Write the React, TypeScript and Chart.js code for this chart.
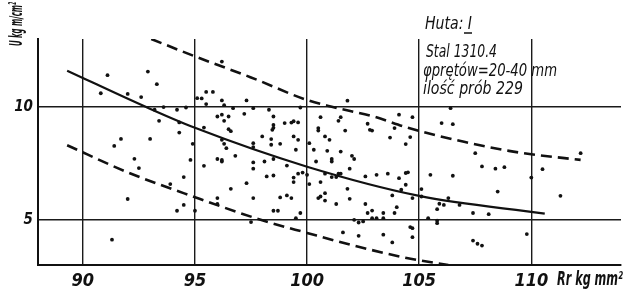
import React, { useEffect, useRef } from 'react';
import { Chart, registerables } from 'chart.js';

Chart.register(...registerables);

const xTicks = [90, 95, 100, 105, 110];
const yTicks = [5, 10];

const scatterX = [
  91.1, 92.9, 93.3, 90.8, 92.0, 92.6, 96.2, 95.1, 95.3, 95.5, 95.8, 96.2, 95.5, 96.3, 96.7, 93.6, 94.2, 94.6,
  93.2, 93.4, 94.3, 94.3, 96.0, 96.2, 96.3, 96.5, 96.5, 96.6, 95.4, 93.0, 91.7, 91.4, 94.9, 96.2, 96.3, 96.4,
  97.3, 97.6, 98.3, 99.7, 97.2, 98.5, 99.0, 99.3, 99.4, 99.6, 98.5, 98.5, 98.45, 98.0, 98.4, 97.6, 97.6, 98.4,
  98.8, 99.4, 99.6, 99.5, 100.1, 100.5, 100.5, 100.6, 100.8, 101.0, 100.3, 100.9, 101.4, 101.5, 101.7, 101.5,
  101.8, 102.7, 102.8, 102.9, 103.7, 103.9, 104.1, 104.7, 104.6, 104.4,
  106.4, 106.0, 106.5, 107.5, 112.2,
  92.3, 92.5, 92.0, 91.3, 93.9, 94.5, 94.8, 94.5, 94.2, 95.0, 95.4, 96.0, 96.2, 96.2, 96.8, 96.6, 96.0, 96.0,
  97.6, 97.6, 98.1, 98.5, 99.1, 97.3, 98.2, 98.5, 99.4, 99.4, 99.6, 99.8, 100.0, 100.1, 97.6, 98.8, 99.1, 99.3,
  98.5, 98.7, 99.7, 99.5, 97.5, 100.4, 101.1, 101.1, 102.0, 102.1, 101.9, 100.6, 100.8, 101.1, 101.3, 101.4,
  101.5, 100.5, 100.6, 100.8, 100.8, 101.3, 101.8, 101.9, 102.1, 102.3, 102.5, 102.6, 102.6, 102.7, 102.9,
  102.9, 103.1, 103.1, 103.4, 103.4, 103.6, 103.8, 103.9, 104.0, 104.1, 104.2, 104.4, 104.5, 104.4, 104.7,
  104.6, 104.7, 104.7, 103.8, 103.4, 102.3, 101.6,
  105.5, 106.5, 107.8, 108.4, 108.8, 110.5, 110.0, 111.3, 108.5, 105.1, 105.1, 106.3, 105.9, 106.1, 105.8,
  106.8, 107.4, 108.1, 105.4, 105.8, 105.8, 107.4, 107.6, 107.8, 109.8,
];

const scatterY = [
  11.4, 11.56, 11.0, 10.6, 10.57, 10.43, 12.0, 10.38, 10.37, 10.66, 10.66, 10.28, 10.12, 10.07, 9.94, 9.99, 9.87, 9.97,
  9.87, 9.38, 9.31, 8.86, 9.57, 9.65, 9.38, 9.57, 9.01, 8.92, 9.08, 8.58, 8.58, 8.27, 8.36, 8.54, 8.36, 8.17,
  10.28, 9.94, 9.87, 9.97, 9.69, 9.57, 9.28, 9.3, 9.36, 9.31, 9.2, 9.07, 8.98, 8.69, 8.57, 8.39, 8.22, 8.32,
  8.36, 8.69, 8.54, 8.1, 8.39, 9.06, 8.95, 9.54, 8.69, 8.54, 8.1, 8.05, 9.38, 9.54, 8.95, 8.02,
  10.27, 9.25, 8.98, 8.95, 8.64, 9.06, 9.65, 9.54, 8.66, 8.35,
  9.94, 9.28, 9.23, 7.95, 7.95,
  7.7, 7.29, 5.92, 4.12, 6.58, 6.89, 7.65, 5.66, 5.4, 5.4, 7.39, 7.69, 7.65, 7.58, 7.83, 6.37, 5.96, 5.7,
  7.54, 7.26, 7.58, 7.69, 7.4, 6.62, 6.92, 6.96, 6.87, 6.67, 7.04, 7.09, 6.99, 6.58, 5.96, 5.99, 6.08, 5.96,
  5.4, 5.4, 5.3, 5.07, 4.9, 7.58, 7.69, 7.58, 7.83, 7.69, 7.26, 6.67, 7.04, 6.89, 6.89, 7.04,
  7.04, 5.96, 6.03, 6.18, 5.85, 5.7, 6.37, 5.93, 5.0, 4.88, 4.93, 6.92, 5.7, 5.3, 5.41,
  5.07, 5.07, 6.99, 5.3, 5.07, 7.04, 6.08, 5.3, 5.56, 6.84, 6.33, 7.07, 7.1, 6.55, 5.96,
  4.68, 4.63, 4.23, 4.0, 4.34, 4.29, 4.44,
  6.99, 6.95, 7.36, 7.26, 7.33, 7.24, 6.87, 6.06, 6.25, 6.36, 6.03, 5.96, 5.71, 5.66, 5.47,
  5.66, 5.3, 5.25, 5.07, 4.96, 4.85, 4.08, 3.94, 3.86, 4.37,
];

const regX = [89.3, 92.8, 95, 100, 105, 110.6];
const regY = [11.6, 10.0, 9.07, 7.35, 6.06, 5.27];

const upX = [93.05, 95, 97.5, 100, 101.1, 103, 104.5, 107, 109, 110, 112.2];
const upY = [13.0, 12.23, 11.3, 10.3, 10.0, 9.56, 9.07, 8.45, 8.05, 7.9, 7.65];

const lowX = [89.3, 92, 95, 98, 100, 102, 104.5, 106.3];
const lowY = [8.3, 7.1, 6.0, 4.98, 4.42, 3.88, 3.3, 3.0];

const noteLines = ['Huta: I', 'Stal 1310.4', 'φprętów=20-40 mm', 'ilość prób 229'];
const yTitle = 'U kg m/cm²';
const xTitle = 'Rr kg mm²';

const FONT = '"Liberation Sans Narrow", "DejaVu Sans Condensed", "Liberation Sans", "DejaVu Sans", sans-serif';
const INK = '#111111';

const pairs = (xs: number[], ys: number[]) => xs.map((x, i) => ({ x, y: ys[i] }));

function fitText(ctx: CanvasRenderingContext2D, text: string, x: number, y: number, w: number, size: number, rot = 0, weight = 'bold') {
  ctx.save();
  ctx.font = `italic ${weight} ${size}px ${FONT}`;
  const m = ctx.measureText(text).width || 1;
  ctx.translate(x, y);
  if (rot) ctx.rotate(rot);
  ctx.scale(w / m, 1);
  ctx.textAlign = 'left';
  ctx.textBaseline = 'middle';
  ctx.fillStyle = INK;
  ctx.fillText(text, 0, 0);
  ctx.restore();
}

const textPlugin = {
  id: 'sketchTexts',
  afterDraw(chart: any) {
    const ctx: CanvasRenderingContext2D = chart.ctx;
    // y axis title (rotated)
    fitText(ctx, yTitle, 17, 46, 44, 18, -Math.PI / 2);
    // x axis title
    fitText(ctx, xTitle, 557, 280, 66, 19);
    // annotation block
    const layout = [
      { x: 425, y: 25, w: 47 },
      { x: 426, y: 53, w: 71 },
      { x: 423, y: 72, w: 134 },
      { x: 423, y: 90, w: 100 },
    ];
    noteLines.forEach((t, i) => fitText(ctx, t, layout[i].x, layout[i].y, layout[i].w, 17, 0, 'normal'));
    // underline under "I"
    ctx.save();
    ctx.strokeStyle = INK;
    ctx.lineWidth = 1.5;
    ctx.beginPath();
    ctx.moveTo(464, 33);
    ctx.lineTo(472, 33);
    ctx.stroke();
    ctx.restore();
  },
};

export default function App() {
  const ref = useRef<HTMLCanvasElement | null>(null);

  useEffect(() => {
    document.body.style.margin = '0';
    const canvas = ref.current;
    if (!canvas) return;
    const chart = new Chart(canvas, {
      type: 'scatter',
      data: {
        datasets: [
          {
            label: 'pomiary',
            data: pairs(scatterX, scatterY),
            backgroundColor: INK,
            borderColor: INK,
            pointRadius: 1.9,
            pointBorderWidth: 0,
          },
          {
            label: 'regresja',
            data: pairs(regX, regY),
            showLine: true,
            borderColor: INK,
            borderWidth: 2.2,
            pointRadius: 0,
            cubicInterpolationMode: 'monotone',
          },
          {
            label: 'górna granica',
            data: pairs(upX, upY),
            showLine: true,
            borderColor: INK,
            borderWidth: 2.6,
            borderDash: [11, 6],
            pointRadius: 0,
            cubicInterpolationMode: 'monotone',
          },
          {
            label: 'dolna granica',
            data: pairs(lowX, lowY),
            showLine: true,
            borderColor: INK,
            borderWidth: 2.6,
            borderDash: [11, 6],
            pointRadius: 0,
            cubicInterpolationMode: 'monotone',
          },
        ],
      } as any,
      options: {
        animation: false,
        responsive: false,
        devicePixelRatio: 1,
        layout: { padding: { top: 39, right: 2, left: 0, bottom: 0 } },
        plugins: { legend: { display: false }, tooltip: { enabled: false } },
        scales: {
          x: {
            type: 'linear',
            min: 88,
            max: 114,
            afterBuildTicks: (a: any) => {
              a.ticks = xTicks.map((v) => ({ value: v }));
            },
            afterFit: (a: any) => {
              a.height = 24;
            },
            grid: { color: '#1a1a1a', lineWidth: 1.4, drawTicks: false },
            border: { color: INK, width: 2 },
            ticks: {
              color: INK,
              padding: 6,
              autoSkip: false,
              maxRotation: 0,
              font: { family: FONT, size: 18, style: 'italic', weight: 'bold' },
            },
          },
          y: {
            type: 'linear',
            min: 3,
            max: 13,
            afterBuildTicks: (a: any) => {
              a.ticks = yTicks.map((v) => ({ value: v }));
            },
            afterFit: (a: any) => {
              a.width = 38;
            },
            grid: { color: '#1a1a1a', lineWidth: 1.4, drawTicks: false },
            border: { color: INK, width: 2 },
            ticks: {
              color: INK,
              padding: 5,
              font: { family: FONT, size: 15, style: 'italic', weight: 'bold' },
            },
          },
        },
      } as any,
      plugins: [textPlugin],
    });
    return () => chart.destroy();
  }, []);

  return (
    <div style={{ position: 'fixed', left: 0, top: 0, width: 625, height: 289, background: '#fff' }}>
      <canvas ref={ref} width={625} height={289} style={{ display: 'block', width: 625, height: 289 }} />
    </div>
  );
}
